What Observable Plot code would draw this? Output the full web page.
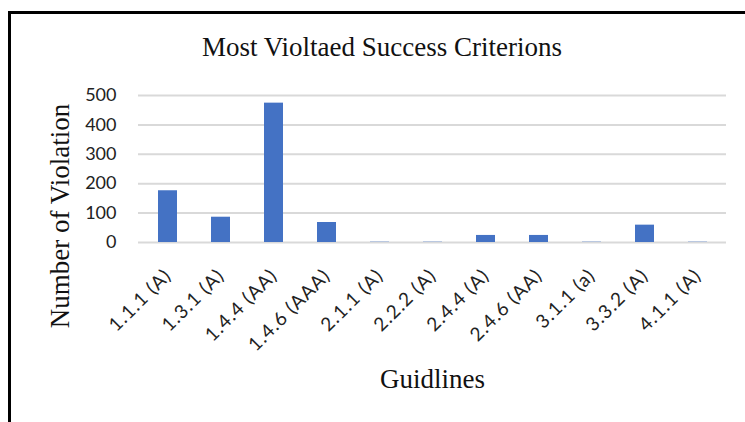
<!DOCTYPE html>
<html>
<head>
<meta charset="utf-8">
<script src="https://cdn.jsdelivr.net/npm/d3@7"></script>
<script src="https://cdn.jsdelivr.net/npm/@observablehq/plot@0.6"></script>
<style>
  html, body { margin: 0; padding: 0; background: #fff; }
  #frame {
    position: absolute; left: 8px; top: 11px; right: 0; bottom: 0;
    border-top: 3px solid #000; border-left: 3px solid #000;
  }
  #title {
    font-family: "Liberation Serif", "Times New Roman", serif;
    font-size: 27px; color: #111; text-align: center;
    padding-top: 10px; line-height: 46px; height: 56px; box-sizing: border-box;
    width: 742px;
  }
  .xt text { letter-spacing: 1px; }
</style>
</head>
<body>
<div id="frame">
  <div id="title">Most Violtaed Success Criterions</div>
  <div id="chart"></div>
</div>
<script>
const categories = ["1.1.1 (A)", "1.3.1 (A)", "1.4.4 (AA)", "1.4.6 (AAA)", "2.1.1 (A)", "2.2.2 (A)", "2.4.4 (A)", "2.4.6 (AA)", "3.1.1 (a)", "3.3.2 (A)", "4.1.1 (A)"];
const violations = [176, 86, 474, 68, 1, 1, 24, 24, 1, 59, 1];
const yTicks = [0, 100, 200, 300, 400, 500];
const yLabel = "Number of Violation";
const xLabel = "Guidlines";

const data = categories.map((c, i) => ({label: c, value: violations[i]}));

const chart = Plot.plot({
  width: 734,
  height: 352,
  marginTop: 25,
  marginLeft: 127,
  marginRight: 19,
  marginBottom: 180,
  x: {domain: categories, paddingInner: 0.645, paddingOuter: 0.3225},
  y: {domain: [0, 500]},
  marks: [
    Plot.ruleY(yTicks, {stroke: "#d9d9d9", strokeWidth: 2}),
    Plot.barY(data, {x: "label", y: "value", fill: "#4472C4"}),
    Plot.axisY({ticks: yTicks, tickSize: 0, tickPadding: 22, label: null,
      fontSize: 18, fontFamily: "Lato", fill: "#222"}),
    Plot.axisX({tickSize: 0, tickRotate: -45, tickPadding: 30, label: null,
      fontSize: 19, fontFamily: "Lato", fill: "#222", className: "xt"}),
    Plot.text([yLabel], {frameAnchor: "left", textAnchor: "middle", rotate: -90, dx: -78, dy: 47, text: d => d,
      fontSize: 27, fontFamily: "Liberation Serif", fill: "#111"}),
    Plot.text([xLabel], {frameAnchor: "bottom", dy: 145, text: d => d,
      fontSize: 27, fontFamily: "Liberation Serif", fill: "#111"})
  ]
});
document.getElementById("chart").appendChild(chart);
</script>
</body>
</html>
